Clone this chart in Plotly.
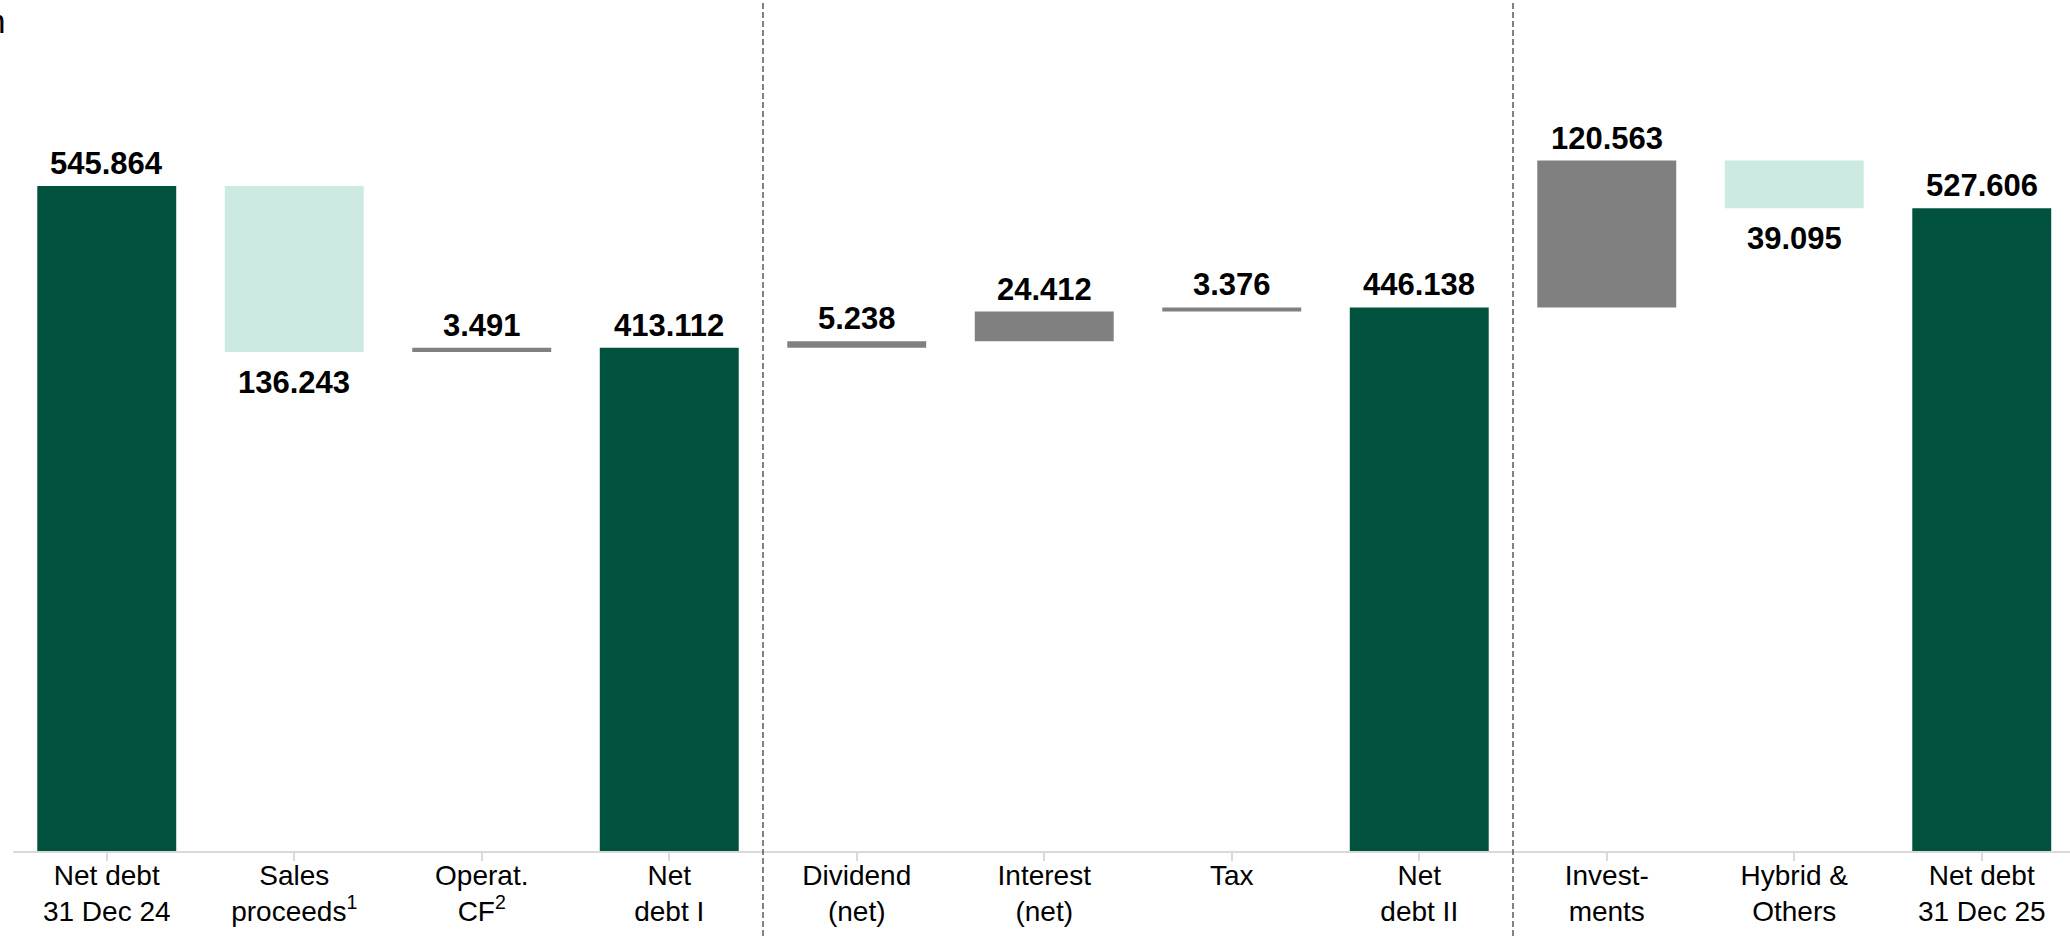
import plotly.graph_objects as go

# Net debt bridge: categories, measures and values
categories = [
    "Net debt<br>31 Dec 24", "Sales<br>proceeds<sup>1</sup>", "Operat.<br>CF<sup>2</sup>",
    "Net<br>debt I", "Dividend<br>(net)", "Interest<br>(net)", "Tax", "Net<br>debt II",
    "Invest-<br>ments", "Hybrid &<br>Others", "Net debt<br>31 Dec 25",
]
measures = ["absolute", "relative", "relative", "absolute", "relative", "relative",
            "relative", "absolute", "relative", "relative", "absolute"]
values = [545.864, -136.243, 3.491, 413.112, 5.238, 24.412, 3.376, 446.138,
          120.563, -39.095, 527.606]
section_breaks = [3.5, 7.5]

DARK_GREEN = "#00523F"
MINT = "#CCEAE1"
GREY = "#808080"
FONT = "Arial, Liberation Sans, sans-serif"

W, H = 2070, 936
M_L, M_R, M_T, M_B = 13, 0, 0, 85
cat_px = 187.5
x_range = [-0.5, -0.5 + (W - M_L - M_R) / cat_px]
y_range = [0, 698.5]

xs = list(range(len(categories)))

fig = go.Figure(go.Waterfall(
    x=xs,
    measure=measures,
    y=values,
    connector=dict(visible=False),
    increasing=dict(marker=dict(color=GREY)),
    decreasing=dict(marker=dict(color=MINT)),
    totals=dict(marker=dict(color=DARK_GREEN)),
    hoverinfo="skip",
))

# value labels: above the bar end for rises and totals, below it for falls
level = 0.0
for x, m, v in zip(xs, measures, values):
    start = 0.0 if m == "absolute" else level
    level = v if m == "absolute" else level + v
    top, bottom = max(start, level), min(start, level)
    falling = m == "relative" and v < 0
    fig.add_annotation(
        x=x, y=bottom if falling else top, xref="x", yref="y",
        text=f"<b>{abs(v):.3f}</b>", showarrow=False,
        yanchor="top" if falling else "bottom",
        yshift=-11 if falling else 3,
        font=dict(family=FONT, size=31, color="black"),
    )

# dashed separators between the three sections
for b in section_breaks:
    xp = (b - x_range[0]) / (x_range[1] - x_range[0])
    fig.add_shape(type="line", xref="paper", yref="paper",
                  x0=xp, x1=xp, y0=-M_B / (H - M_T - M_B), y1=1.0,
                  line=dict(color="#595959", width=1.5, dash="6px,3px"))

fig.add_annotation(text="in EUR m", xref="paper", yref="paper",
                   x=(7 - M_L) / (W - M_L - M_R), y=1 - 21 / (H - M_T - M_B),
                   xanchor="right", yanchor="middle", showarrow=False,
                   font=dict(family=FONT, size=34, color="black"))

fig.update_layout(
    width=W, height=H,
    margin=dict(l=M_L, r=M_R, t=M_T, b=M_B, pad=0),
    paper_bgcolor="white", plot_bgcolor="white",
    showlegend=False,
    waterfallgap=0.259,
    xaxis=dict(
        range=x_range, tickmode="array",
        tickvals=xs, ticktext=categories,
        tickson="boundaries", ticks="outside", ticklen=8, tickcolor="#D9D9D9",
        tickwidth=2, showline=True, linecolor="#D9D9D9", linewidth=2,
        showgrid=False, zeroline=False, ticklabelstandoff=-10,
        tickfont=dict(family=FONT, size=28, color="black"),
    ),
    yaxis=dict(range=y_range, visible=False, showgrid=False, zeroline=False),
)

fig.write_html("out.html")
